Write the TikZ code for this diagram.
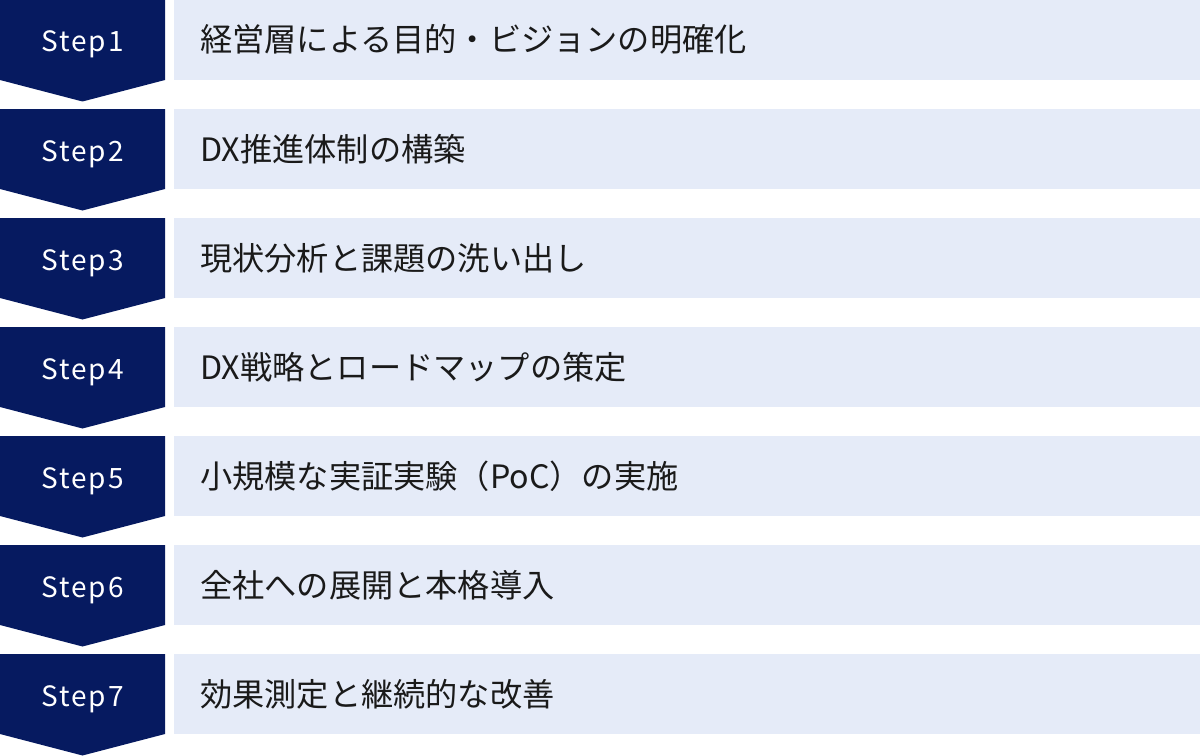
\documentclass[tikz,border=0pt]{standalone}
\usepackage{fontspec}
\setmainfont{Noto Sans CJK JP}
\newfontfamily\stepfont[LetterSpace=7]{Noto Sans CJK JP}
\definecolor{navy}{HTML}{061A60}
\definecolor{pale}{HTML}{E5EBF8}
\definecolor{ink}{HTML}{1A1A1A}
\begin{document}
\begin{tikzpicture}[x=1bp,y=-1bp,
  stepshape/.style={fill=navy},
  steplabel/.style={text=white,font=\stepfont\fontsize{28bp}{32bp}\selectfont,anchor=base,inner sep=0pt},
  bar/.style={fill=pale},
  barlabel/.style={text=ink,font=\fontsize{32.2bp}{37bp}\selectfont,anchor=base west,inner sep=0pt}]
\useasboundingbox (0,0) rectangle (1200,756);
\foreach \i/\t in {1/経営層による目的・ビジョンの明確化,
                   2/DX推進体制の構築,
                   3/現状分析と課題の洗い出し,
                   4/DX戦略とロードマップの策定,
                   5/小規模な実証実験（PoC）の実施,
                   6/全社への展開と本格導入,
                   7/効果測定と継続的な改善} {
  \pgfmathsetmacro\rowtop{109*(\i-1)}
  \path[stepshape] (0,\rowtop) -- (165,\rowtop) -- (165,\rowtop+80) -- (82.5,\rowtop+101.5) -- (0,\rowtop+80) -- cycle;
  \path[bar] (174,\rowtop) rectangle (1200,\rowtop+80);
  \node[steplabel] (s\i) at (82.5,\rowtop+52) {Step\i};
  \node[barlabel] (t\i) at (200,\rowtop+52) {\t};
}
\end{tikzpicture}
\end{document}
